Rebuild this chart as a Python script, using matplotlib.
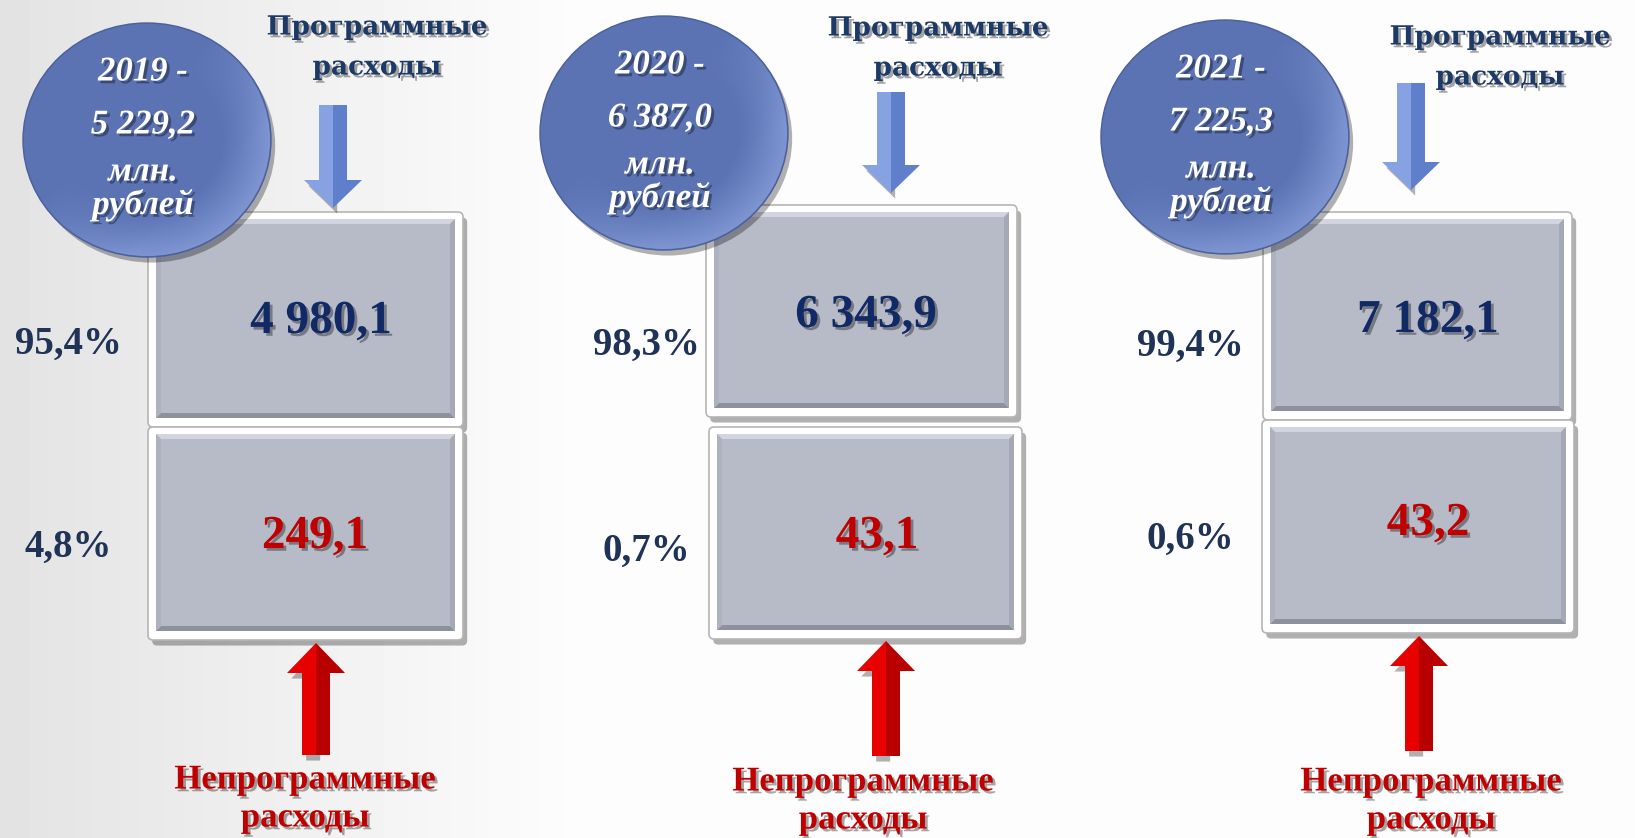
import matplotlib.pyplot as plt
import matplotlib.patches as mpatches
import matplotlib.patheffects as pe
import numpy as np

# данные
years = ["2019", "2020", "2021"]
totals = ["5 229,2", "6 387,0", "7 225,3"]
program = ["4 980,1", "6 343,9", "7 182,1"]
nonprogram = ["249,1", "43,1", "43,2"]
pct_program = ["95,4%", "98,3%", "99,4%"]
pct_nonprogram = ["4,8%", "0,7%", "0,6%"]

# раскладка по панелям (пиксели)
circ_c = [(147, 140), (664, 133), (1225, 137)]
circ_r = (124, 117)
box_x = [(148, 463), (706, 1017), (1263, 1572)]
box_lo_x = [(148, 463), (709, 1022), (1262, 1574)]
box_y = [(212, 427), (205, 417), (212, 420)]
box_lo_y = [(427, 640), (427, 639), (420, 633)]
blue_arr = [(333, 105, 208), (891, 92, 193), (1411, 83, 190)]
red_arr = [(316, 643, 755), (886, 641, 756), (1419, 636, 751)]
top_lbl = [(377, 27), (938, 28), (1500, 37)]
bot_lbl = [(305, 780), (863, 782), (1431, 782)]
pct_pos = [(68, 340, 543), (646, 341, 547), (1190, 342, 535)]
num_pos = [(321, 317), (866, 311), (1428, 316)]
num_lo_pos = [(315, 532), (877, 532), (1428, 519)]

serif = ["Liberation Serif", "DejaVu Serif"]
navy = "#14305e"
red = "#c00000"

fig = plt.figure(figsize=(16.35, 8.38), dpi=100)
ax = fig.add_axes([0, 0, 1, 1])
ax.set_xlim(0, 1635)
ax.set_ylim(838, 0)
ax.axis("off")

# фон
gx = np.linspace(0, 1, 400)
bg = 0.89 + 0.10 * np.clip(gx / 0.35, 0, 1)
ax.imshow(np.tile(bg, (50, 1)), extent=[0, 1635, 838, 0], aspect="auto",
          cmap="gray", vmin=0, vmax=1, zorder=0)

shadow = [pe.withSimplePatchShadow(offset=(3, -4), shadow_rgbFace="k", alpha=0.3)]
txt_sh = [pe.withSimplePatchShadow(offset=(2, -2), shadow_rgbFace="k", alpha=0.35)]


def draw_box(x0, x1, y0, y1):
    outer = mpatches.FancyBboxPatch((x0, y0), x1 - x0, y1 - y0,
                                    boxstyle="round,pad=0,rounding_size=5",
                                    fc="white", ec="#b5b5b5", lw=1.2, zorder=2,
                                    path_effects=shadow)
    ax.add_patch(outer)
    ix0, ix1, iy0, iy1 = x0 + 8, x1 - 8, y0 + 7, y1 - 9
    ax.add_patch(mpatches.Rectangle((ix0, iy0), ix1 - ix0, iy1 - iy0,
                                    fc="#b7bac7", ec="none", zorder=3))
    b = 5
    # фаска
    ax.add_patch(mpatches.Polygon([(ix0, iy0), (ix1, iy0), (ix1 - b, iy0 + b), (ix0 + b, iy0 + b)],
                                  fc="#d2d5e0", ec="none", zorder=3))
    ax.add_patch(mpatches.Polygon([(ix0, iy1), (ix1, iy1), (ix1 - b, iy1 - b), (ix0 + b, iy1 - b)],
                                  fc="#8d909d", ec="none", zorder=3))
    ax.add_patch(mpatches.Polygon([(ix0, iy0), (ix0 + b, iy0 + b), (ix0 + b, iy1 - b), (ix0, iy1)],
                                  fc="#aeb2c0", ec="none", zorder=3))
    ax.add_patch(mpatches.Polygon([(ix1, iy0), (ix1 - b, iy0 + b), (ix1 - b, iy1 - b), (ix1, iy1)],
                                  fc="#a5a9b7", ec="none", zorder=3))


def draw_arrow(xc, ya, yb, down, c_light, c_dark):
    # ya - хвост, yb - острие
    sw, hw = 14, 29
    hl = 28 if down else 30
    s = 1 if down else -1
    yh = yb - s * hl
    left = [(xc - sw, ya), (xc, ya), (xc, yb), (xc - hw, yh), (xc - sw, yh)]
    right = [(xc + sw, ya), (xc, ya), (xc, yb), (xc + hw, yh), (xc + sw, yh)]
    ax.add_patch(mpatches.Polygon(left, fc=c_light, ec="none", zorder=4, path_effects=shadow))
    ax.add_patch(mpatches.Polygon(right, fc=c_dark, ec="none", zorder=4))


for i in range(3):
    # круг
    cx, cy = circ_c[i]
    ell = mpatches.Ellipse((cx, cy), 2 * circ_r[0], 2 * circ_r[1], fc="#5b72b3",
                           ec="#4a5f9c", lw=1, zorder=5, path_effects=shadow)
    ax.add_patch(ell)
    yy, xx = np.mgrid[-1:1:200j, -1:1:200j]
    rr = np.sqrt(xx ** 2 + yy ** 2)
    glow = np.clip((rr - 0.6) / 0.4, 0, 1) * np.clip((xx + yy) * 0.8 + 0.3, 0, 1)
    img = np.zeros((200, 200, 4))
    img[..., :3] = [0.56, 0.65, 0.88]
    img[..., 3] = glow * 0.7
    im = ax.imshow(img, extent=[cx - circ_r[0], cx + circ_r[0], cy + circ_r[1], cy - circ_r[1]],
                   aspect="auto", zorder=5.5)
    im.set_clip_path(mpatches.Ellipse((cx, cy), 2 * circ_r[0] - 2, 2 * circ_r[1] - 2,
                                      transform=ax.transData))
    lines = [years[i] + " -", totals[i], "млн.", "рублей"]
    offs = [-68, -15, 32, 65]
    for t, o in zip(lines, offs):
        ax.text(cx - 4, cy + o, t, ha="center", va="center", color="white",
                fontsize=25, fontweight="bold", fontstyle="italic", family=serif,
                zorder=6, path_effects=txt_sh)

    # прямоугольники
    draw_box(box_x[i][0], box_x[i][1], box_y[i][0], box_y[i][1])
    draw_box(box_lo_x[i][0], box_lo_x[i][1], box_lo_y[i][0], box_lo_y[i][1])

    ax.text(num_pos[i][0], num_pos[i][1], program[i], ha="center", va="center_baseline",
            color="#112a66", fontsize=34, fontweight="bold", family=serif,
            zorder=7, path_effects=txt_sh)
    ax.text(num_lo_pos[i][0], num_lo_pos[i][1], nonprogram[i], ha="center",
            va="center_baseline", color=red, fontsize=34, fontweight="bold",
            family=serif, zorder=7, path_effects=txt_sh)

    # стрелки
    bx, by0, by1 = blue_arr[i]
    draw_arrow(bx, by0, by1, True, "#86a2e3", "#5f7fcb")
    rx, ry0, ry1 = red_arr[i]
    draw_arrow(rx, ry1, ry0, False, "#e60000", "#b80000")

    # подписи
    tx, ty = top_lbl[i]
    for k, t in enumerate(["Программные", "расходы"]):
        ax.text(tx, ty + 40 * k, t, ha="center", va="center", color="#1d3a66",
                fontsize=19, fontweight="bold", family=["DejaVu Serif"], zorder=7,
                path_effects=txt_sh)
    lx, ly = bot_lbl[i]
    for k, t in enumerate(["Непрограммные", "расходы"]):
        ax.text(lx, ly + 38 * k, t, ha="center", va="center", color=red,
                fontsize=25, fontweight="bold", family=serif, zorder=7,
                path_effects=txt_sh)

    px, py1, py2 = pct_pos[i]
    ax.text(px, py1, pct_program[i], ha="center", va="center_baseline", color="#1f3356",
            fontsize=28, fontweight="bold", family=serif, zorder=7)
    ax.text(px, py2, pct_nonprogram[i], ha="center", va="center_baseline", color="#1f3356",
            fontsize=28, fontweight="bold", family=serif, zorder=7)

fig.savefig("out.png", dpi=100)
